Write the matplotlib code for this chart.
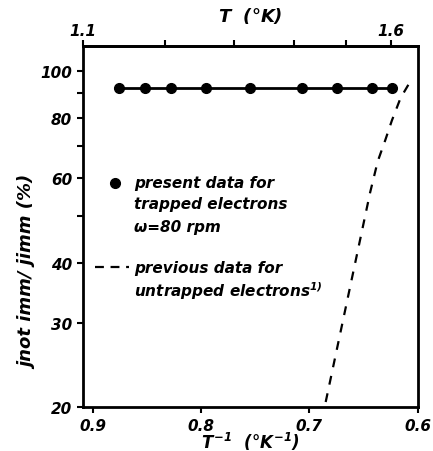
import matplotlib
matplotlib.use("Agg")
import matplotlib.pyplot as plt
from matplotlib.ticker import FixedLocator, NullFormatter, FixedFormatter

plt.rcParams["mathtext.fontset"] = "custom"
plt.rcParams["mathtext.rm"] = "DejaVu Sans:italic:bold"
plt.rcParams["mathtext.it"] = "DejaVu Sans:italic:bold"
plt.rcParams["mathtext.bf"] = "DejaVu Sans:italic:bold"

# present data (trapped electrons), x is 1/T in 1/K
present_inv_t = [0.876, 0.852, 0.828, 0.795, 0.755, 0.707, 0.675, 0.642, 0.624]
present_pct = [92.5, 92.5, 92.5, 92.5, 92.5, 92.5, 92.5, 92.5, 92.5]

# previous data (untrapped electrons), dashed curve
previous_inv_t = [0.685, 0.644, 0.637, 0.630, 0.624, 0.616, 0.605]
previous_pct = [20.5, 56, 65, 72, 79, 88, 97]

y_ticks = [20, 30, 40, 60, 80, 100]
y_minor = [50, 70, 90]
x_ticks = [0.9, 0.8, 0.7, 0.6]
t_ticks = [1.1, 1.2, 1.3, 1.4, 1.5, 1.6]
t_labels = ["1.1", "", "", "", "", "1.6"]

font = dict(style="italic", weight="bold")

fig = plt.figure(figsize=(4.33, 4.52), dpi=100)
ax = fig.add_axes([0.191, 0.097, 0.774, 0.799])

ax.plot(present_inv_t, present_pct, "-o", color="black", lw=2, ms=7)
ax.plot(previous_inv_t, previous_pct, "--", color="black", lw=1.6, dashes=(4, 4))

ax.set_yscale("log")
ax.set_xlim(1 / 1.1, 0.6)
ax.set_ylim(20, 113)
ax.yaxis.set_major_locator(FixedLocator(y_ticks))
ax.yaxis.set_major_formatter(FixedFormatter([str(v) for v in y_ticks]))
ax.yaxis.set_minor_locator(FixedLocator(y_minor))
ax.yaxis.set_minor_formatter(NullFormatter())
ax.set_xticks(x_ticks)
ax.set_xticklabels(["0.9", "0.8", "0.7", "0.6"])

for lbl in ax.get_xticklabels() + ax.get_yticklabels():
    lbl.set_fontsize(11)
    lbl.set_fontstyle("italic")
    lbl.set_fontweight("bold")

ax.tick_params(direction="out", length=4, width=1.5)
ax.tick_params(which="minor", direction="out", length=4, width=1.5)
for sp in ax.spines.values():
    sp.set_linewidth(2)

ax.set_xlabel(r"$T^{-1}$  ($\degree K^{-1}$)", fontsize=12, labelpad=-2, **font)
ax.set_ylabel("jnot imm/ jimm (%)", fontsize=13, **font)
ax.yaxis.set_label_coords(-0.135, 0.377)

top = ax.secondary_xaxis("top", functions=(lambda x: 1 / x, lambda x: 1 / x))
top.xaxis.set_major_locator(FixedLocator(t_ticks))
top.xaxis.set_major_formatter(FixedFormatter(t_labels))
top.tick_params(direction="out", length=4, width=1.5, labelsize=11, pad=2)
for lbl in top.get_xticklabels():
    lbl.set_fontstyle("italic")
    lbl.set_fontweight("bold")
top.set_xlabel(r"$T$  ($\degree K$)", fontsize=13, labelpad=1, **font)
top.spines["top"].set_linewidth(2)

# in-plot legend
ax.plot([0.879], [58.6], "o", color="black", ms=7)
legend_a = ["present data for", "trapped electrons", "ω=80 rpm"]
legend_a_y = [58.6, 53.2, 47.6]
for s, yv in zip(legend_a, legend_a_y):
    ax.text(0.862, yv, s, fontsize=11, va="center", ha="left", **font)
ax.plot([0.898, 0.866], [39.1, 39.1], "--", color="black", lw=1.6, dashes=(4, 3))
legend_b = ["previous data for", "untrapped electrons$^{1)}$"]
legend_b_y = [39.1, 35.0]
for s, yv in zip(legend_b, legend_b_y):
    ax.text(0.862, yv, s, fontsize=11, va="center", ha="left", **font)

fig.savefig("out.png", dpi=100)
